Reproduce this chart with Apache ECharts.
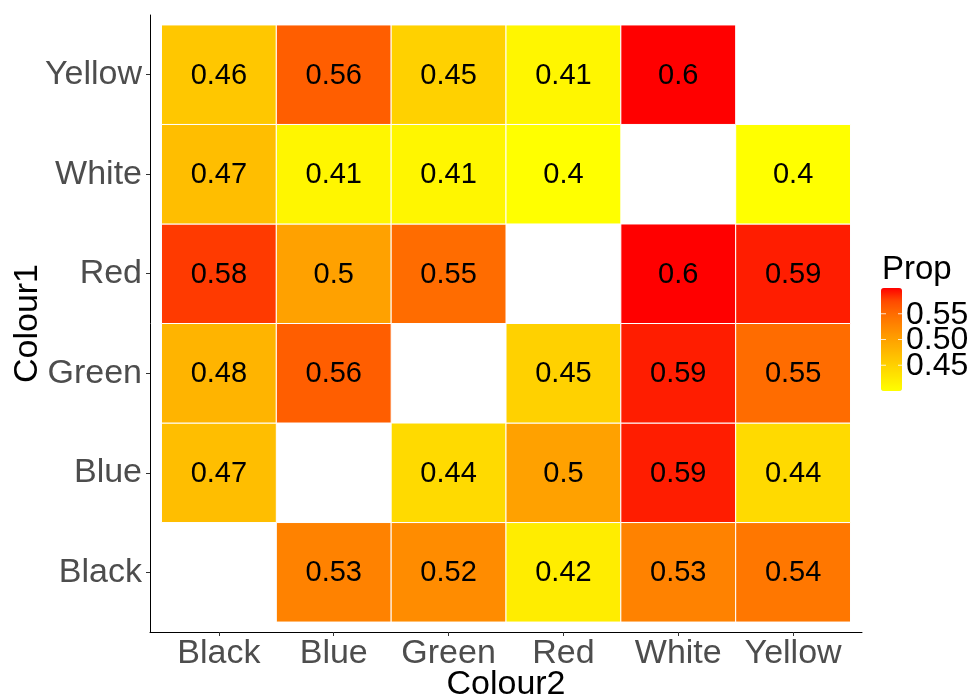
<!DOCTYPE html>
<html>
<head>
<meta charset="utf-8">
<script src="https://cdn.jsdelivr.net/npm/echarts@6/dist/echarts.min.js"></script>
<style>
html,body{margin:0;padding:0;background:#fff;}
#chart{width:975px;height:698px;}
</style>
</head>
<body>
<div id="chart"></div>
<script>
// Categories
var colour2 = ['Black', 'Blue', 'Green', 'Red', 'White', 'Yellow'];   // x axis
var colour1 = ['Black', 'Blue', 'Green', 'Red', 'White', 'Yellow'];   // y axis (bottom to top)

// Proportions by row (Colour1), columns follow colour2; null = no tile
var rowBlack  = [null, 0.53, 0.52, 0.42, 0.53, 0.54];
var rowBlue   = [0.47, null, 0.44, 0.50, 0.59, 0.44];
var rowGreen  = [0.48, 0.56, null, 0.45, 0.59, 0.55];
var rowRed    = [0.58, 0.50, 0.55, null, 0.60, 0.59];
var rowWhite  = [0.47, 0.41, 0.41, 0.40, null, 0.40];
var rowYellow = [0.46, 0.56, 0.45, 0.41, 0.60, null];

// Colour scale limits and legend breaks
var propMin = 0.40, propMax = 0.60;
var legendBreaks = [0.45, 0.50, 0.55];
var legendBreakLabels = ['0.45', '0.50', '0.55'];

var rows = [rowBlack, rowBlue, rowGreen, rowRed, rowWhite, rowYellow];
var data = [];
rows.forEach(function (r, yi) {
  r.forEach(function (v, xi) {
    if (v !== null) data.push([xi + 1, yi + 1, v]);
  });
});

var chart = echarts.init(document.getElementById('chart'));
var FONT = 'Liberation Sans, Arial, sans-serif';

// legend geometry
var barLeft = 881, barTop = 288, barW = 21, barH = 103;
var graphics = [{
  type: 'text', left: 882, top: 253,
  style: {text: 'Prop', font: '33px ' + FONT, fill: '#000'}
}];
legendBreaks.forEach(function (b, i) {
  var y = barTop + barH - (b - propMin) / (propMax - propMin) * barH;
  graphics.push({type: 'line', shape: {x1: barLeft, y1: y, x2: barLeft + 5, y2: y}, style: {stroke: '#fff', lineWidth: 1, opacity: 0.8}, z: 100});
  graphics.push({type: 'line', shape: {x1: barLeft + barW - 4, y1: y, x2: barLeft + barW, y2: y}, style: {stroke: '#fff', lineWidth: 1, opacity: 0.8}, z: 100});
  graphics.push({type: 'text', x: 906, y: y + 1, style: {text: legendBreakLabels[i], font: '32px ' + FONT, fill: '#000', verticalAlign: 'middle'}, z: 100});
});

var option = {
  animation: false,
  backgroundColor: '#fff',
  grid: {left: 150, right: 113, top: 15, bottom: 66, containLabel: false, outerBoundsMode: 'none'},
  xAxis: {
    type: 'value', min: 0.4, max: 6.6,
    name: 'Colour2', nameLocation: 'middle', nameGap: 36, nameMoveOverlap: false,
    nameTextStyle: {fontFamily: FONT, fontSize: 34, color: '#000'},
    axisLine: {show: true, onZero: false, lineStyle: {color: '#000', width: 1}},
    axisTick: {show: true, customValues: [1, 2, 3, 4, 5, 6], length: 4, lineStyle: {color: '#333'}},
    axisLabel: {customValues: [1, 2, 3, 4, 5, 6], formatter: function (v) { return colour2[Math.round(v) - 1]; },
      fontFamily: FONT, fontSize: 34, color: '#4D4D4D', margin: 5},
    splitLine: {show: false}
  },
  yAxis: {
    type: 'value', min: 0.4, max: 6.6,
    name: 'Colour1', nameLocation: 'middle', nameGap: 105, nameRotate: 90, nameMoveOverlap: false,
    nameTextStyle: {fontFamily: FONT, fontSize: 34, color: '#000'},
    axisLine: {show: true, onZero: false, lineStyle: {color: '#000', width: 1}},
    axisTick: {show: true, customValues: [1, 2, 3, 4, 5, 6], length: 4, lineStyle: {color: '#333'}},
    axisLabel: {customValues: [1, 2, 3, 4, 5, 6], formatter: function (v) { return colour1[Math.round(v) - 1]; },
      fontFamily: FONT, fontSize: 34, color: '#4D4D4D', margin: 8},
    splitLine: {show: false}
  },
  visualMap: {
    type: 'continuous', min: propMin, max: propMax, dimension: 2,
    calculable: false, realtime: false, hoverLink: false,
    left: barLeft, top: barTop, itemWidth: barW, itemHeight: barH, padding: 0,
    text: null, showLabel: false,
    inRange: {color: ['#FFFF00', '#FFE800', '#FFD100', '#FFB900', '#FFA100', '#FF8700', '#FF6C00', '#FF4900', '#FF0000']},
    seriesIndex: 0
  },
  graphic: graphics,
  series: [{
    type: 'custom',
    data: data,
    encode: {x: 0, y: 1},
    renderItem: function (params, api) {
      var x = api.value(0), y = api.value(1), v = api.value(2);
      var p0 = api.coord([x - 0.5, y + 0.5]);
      var p1 = api.coord([x + 0.5, y - 0.5]);
      var c = api.coord([x, y]);
      return {
        type: 'group',
        children: [{
          type: 'rect',
          shape: {x: p0[0], y: p0[1], width: p1[0] - p0[0], height: p1[1] - p0[1]},
          style: {fill: api.visual('color'), stroke: '#fff', lineWidth: 1}
        }, {
          type: 'text',
          x: c[0], y: c[1] + 1,
          style: {text: String(Math.round(v * 100) / 100), font: '29px ' + FONT, fill: '#000', align: 'center', verticalAlign: 'middle'}
        }]
      };
    }
  }]
};
chart.setOption(option);
</script>
</body>
</html>
